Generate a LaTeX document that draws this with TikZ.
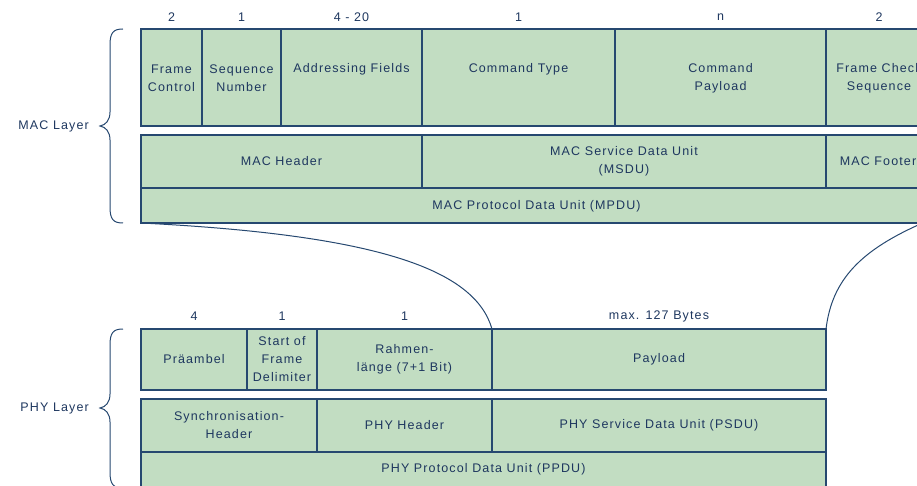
\documentclass[tikz,border=0pt]{standalone}
\usepackage{fontspec}
\setmainfont{Liberation Sans}
\newfontfamily\labfont[LetterSpace=9]{Liberation Sans}
\definecolor{cellfill}{RGB}{194,221,194}
\definecolor{cellline}{RGB}{38,72,112}
\definecolor{labtext}{RGB}{30,55,95}
\tikzset{
  cell/.style={draw=cellline, fill=cellfill, line width=1.3pt, anchor=north west,
    inner sep=0pt, outer sep=0pt},
  lab/.style={text=labtext, align=center, inner sep=0pt,
    font=\labfont\fontsize{12.5}{18}\selectfont},
  num/.style={lab},
  link/.style={draw=cellline, line width=1pt},
  brace/.style={draw=cellline, line width=1pt},
}
\begin{document}
\begin{tikzpicture}[x=1pt,y=-1pt]
\useasboundingbox (0,0) rectangle (917,486);
\clip (0,0) rectangle (917,486);

% ---------- MAC frame fields ----------
\node[cell, minimum width=61, minimum height=97]  (fc)  at (141,29) {};
\node[cell, minimum width=79, minimum height=97]  (sn)  at (202,29) {};
\node[cell, minimum width=141, minimum height=97] (af)  at (281,29) {};
\node[cell, minimum width=193, minimum height=97] (ct)  at (422,29) {};
\node[cell, minimum width=211, minimum height=97] (cp)  at (615,29) {};
\node[cell, minimum width=110, minimum height=97] (fcs) at (826,29) {};

\node[num] (n1) at (171.5,17) {2};
\node[num] (n2) at (241.5,17) {1};
\node[num] (n3) at (351.5,17) {4 - 20};
\node[num] (n4) at (518.5,17) {1};
\node[num] (n5) at (720.5,17) {n};
\node[num] (n6) at (879,17)   {2};

\node[lab] (tfc)  at (171.5,78) {Frame\\Control};
\node[lab] (tsn)  at (241.5,78) {Sequence\\Number};
\node[lab] (taf)  at (351.5,69) {Addressing Fields};
\node[lab] (tct)  at (518.5,69) {Command Type};
\node[lab] (tcp)  at (720.5,78) {Command\\Payload};
\node[lab] (tfcs) at (879,78)   {Frame Check\\Sequence};

% ---------- MAC header / service data / footer ----------
\node[cell, minimum width=281, minimum height=53] (mh)   at (141,135) {};
\node[cell, minimum width=404, minimum height=53] (msdu) at (422,135) {};
\node[cell, minimum width=110, minimum height=53] (mf)   at (826,135) {};
\node[cell, minimum width=795, minimum height=35] (mpdu) at (141,188) {};

\node[lab] (tmh)   at (281.5,161) {MAC Header};
\node[lab] (tmsdu) at (624,161)   {MAC Service Data Unit\\(MSDU)};
\node[lab] (tmf)   at (878,161)   {MAC Footer};
\node[lab] (tmpdu) at (536.5,206) {MAC Protocol Data Unit (MPDU)};

% ---------- PHY frame fields ----------
\node[cell, minimum width=106, minimum height=61] (pre)  at (141,329) {};
\node[cell, minimum width=70, minimum height=61]  (sfd)  at (247,329) {};
\node[cell, minimum width=175, minimum height=61] (len)  at (317,329) {};
\node[cell, minimum width=334, minimum height=61] (pay)  at (492,329) {};

\node[num] (p1) at (194,316)   {4};
\node[num] (p2) at (282,316)   {1};
\node[num] (p3) at (404.5,316) {1};
\node[num] (p4) at (659,316)   {max. 127 Bytes};

\node[lab] (tpre) at (194,359)   {Präambel};
\node[lab] (tsfd) at (282,359.5) {Start of\\Frame\\Delimiter};
\node[lab] (tlen) at (404.5,359.5) {Rahmen-\\länge (7+1 Bit)};
\node[lab] (tpay) at (659,359)   {Payload};

% ---------- PHY header / service data ----------
\node[cell, minimum width=176, minimum height=53] (shr)  at (141,399) {};
\node[cell, minimum width=175, minimum height=53] (phr)  at (317,399) {};
\node[cell, minimum width=334, minimum height=53] (psdu) at (492,399) {};
\node[cell, minimum width=685, minimum height=40] (ppdu) at (141,452) {};

\node[lab] (tshr)  at (229,425.5)  {Synchronisation-\\Header};
\node[lab] (tphr)  at (404.5,425.5) {PHY Header};
\node[lab] (tpsdu) at (659,425.5)  {PHY Service Data Unit (PSDU)};
\node[lab] (tppdu) at (483.5,469)  {PHY Protocol Data Unit (PPDU)};

% ---------- MPDU carried in the PHY payload ----------
\coordinate (mpduse) at (925,222);
\draw[link] (mpdu.south west) .. controls (380,235) and (475,270) .. (pay.north west);
\draw[link] (pay.north east) .. controls (832,280) and (860,250) .. (mpduse);

% ---------- layer braces ----------
\node[lab, anchor=east] (maclayer) at (89,126) {MAC Layer};
\node[lab, anchor=east] (phylayer) at (89,408) {PHY Layer};
\draw[brace] (123,29) .. controls (113,29) and (110,33) .. (110,45) -- (110,112)
  .. controls (110,120) and (106,125) .. (100,126)
  .. controls (106,127) and (110,132) .. (110,140) -- (110,207)
  .. controls (110,219) and (113,223) .. (123,223);
\draw[brace] (123,329) .. controls (113,329) and (110,333) .. (110,345) -- (110,394)
  .. controls (110,402) and (106,407) .. (100,408)
  .. controls (106,409) and (110,414) .. (110,422) -- (110,472)
  .. controls (110,484) and (113,488) .. (123,488);
\end{tikzpicture}
\end{document}
